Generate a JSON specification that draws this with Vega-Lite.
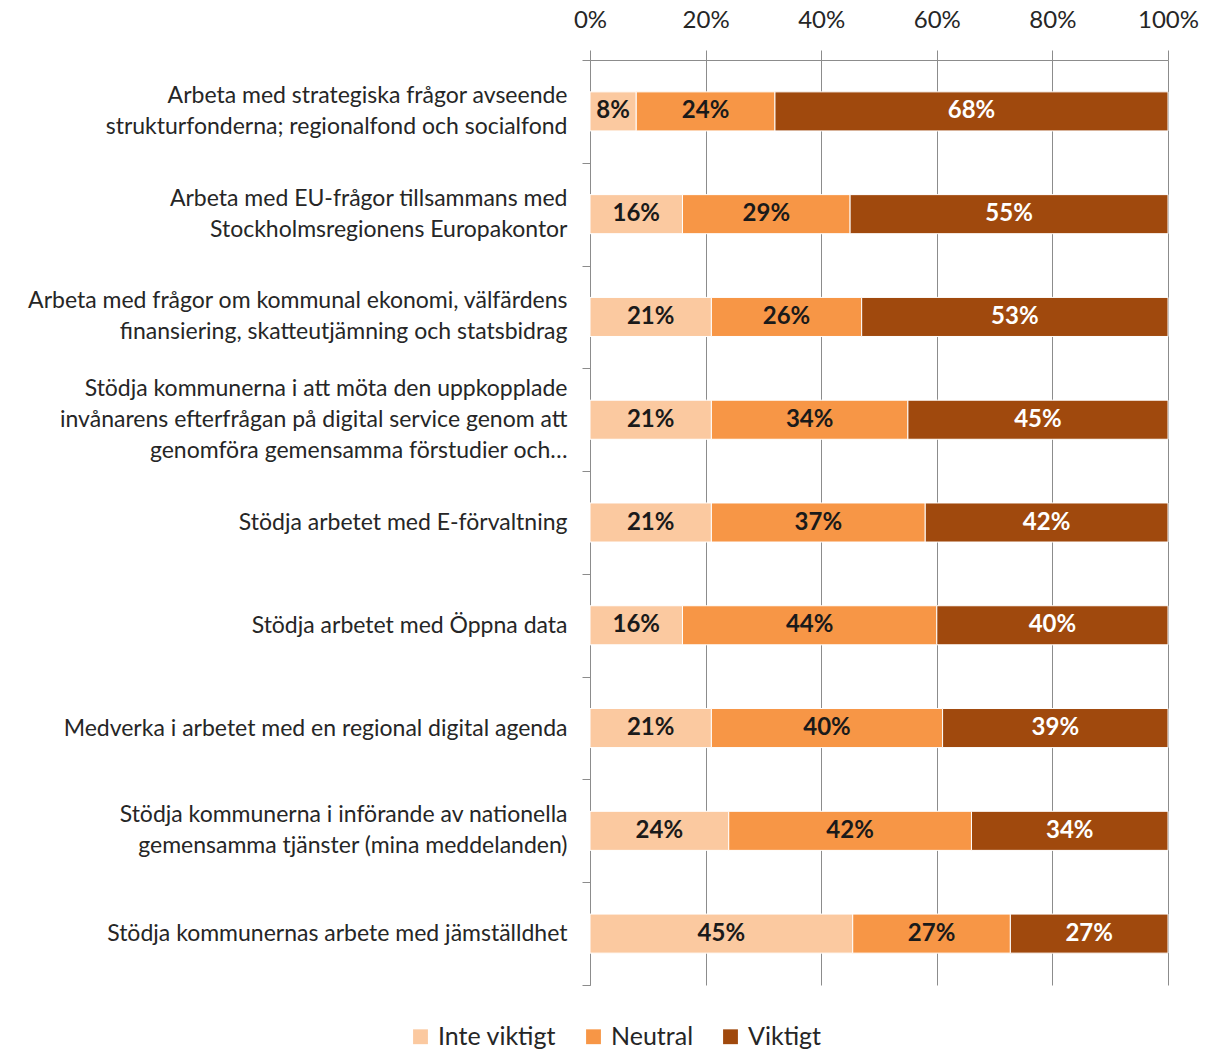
{
  "$schema": "https://vega.github.io/schema/vega-lite/v6.json",
  "autosize": "none",
  "width": 578,
  "height": 925,
  "padding": {"left": 590, "top": 60, "right": 49, "bottom": 67},
  "background": "white",
  "config": {"view": {"stroke": null}, "font": "Lato"},
  "data": {
    "values": [
      {"q": "Arbeta med strategiska frågor avseende|strukturfonderna; regionalfond och socialfond", "resp": "Inte viktigt", "v": 0.08},
      {"q": "Arbeta med strategiska frågor avseende|strukturfonderna; regionalfond och socialfond", "resp": "Neutral", "v": 0.24},
      {"q": "Arbeta med strategiska frågor avseende|strukturfonderna; regionalfond och socialfond", "resp": "Viktigt", "v": 0.68},
      {"q": "Arbeta med EU-frågor tillsammans med|Stockholmsregionens Europakontor", "resp": "Inte viktigt", "v": 0.16},
      {"q": "Arbeta med EU-frågor tillsammans med|Stockholmsregionens Europakontor", "resp": "Neutral", "v": 0.29},
      {"q": "Arbeta med EU-frågor tillsammans med|Stockholmsregionens Europakontor", "resp": "Viktigt", "v": 0.55},
      {"q": "Arbeta med frågor om kommunal ekonomi, välfärdens|finansiering, skatteutjämning och statsbidrag", "resp": "Inte viktigt", "v": 0.21},
      {"q": "Arbeta med frågor om kommunal ekonomi, välfärdens|finansiering, skatteutjämning och statsbidrag", "resp": "Neutral", "v": 0.26},
      {"q": "Arbeta med frågor om kommunal ekonomi, välfärdens|finansiering, skatteutjämning och statsbidrag", "resp": "Viktigt", "v": 0.53},
      {"q": "Stödja kommunerna i att möta den uppkopplade|invånarens efterfrågan på digital service genom att|genomföra gemensamma förstudier och…", "resp": "Inte viktigt", "v": 0.21},
      {"q": "Stödja kommunerna i att möta den uppkopplade|invånarens efterfrågan på digital service genom att|genomföra gemensamma förstudier och…", "resp": "Neutral", "v": 0.34},
      {"q": "Stödja kommunerna i att möta den uppkopplade|invånarens efterfrågan på digital service genom att|genomföra gemensamma förstudier och…", "resp": "Viktigt", "v": 0.45},
      {"q": "Stödja arbetet med E-förvaltning", "resp": "Inte viktigt", "v": 0.21},
      {"q": "Stödja arbetet med E-förvaltning", "resp": "Neutral", "v": 0.37},
      {"q": "Stödja arbetet med E-förvaltning", "resp": "Viktigt", "v": 0.42},
      {"q": "Stödja arbetet med Öppna data", "resp": "Inte viktigt", "v": 0.16},
      {"q": "Stödja arbetet med Öppna data", "resp": "Neutral", "v": 0.44},
      {"q": "Stödja arbetet med Öppna data", "resp": "Viktigt", "v": 0.40},
      {"q": "Medverka i arbetet med en regional digital agenda", "resp": "Inte viktigt", "v": 0.21},
      {"q": "Medverka i arbetet med en regional digital agenda", "resp": "Neutral", "v": 0.40},
      {"q": "Medverka i arbetet med en regional digital agenda", "resp": "Viktigt", "v": 0.39},
      {"q": "Stödja kommunerna i införande av nationella|gemensamma tjänster (mina meddelanden)", "resp": "Inte viktigt", "v": 0.24},
      {"q": "Stödja kommunerna i införande av nationella|gemensamma tjänster (mina meddelanden)", "resp": "Neutral", "v": 0.42},
      {"q": "Stödja kommunerna i införande av nationella|gemensamma tjänster (mina meddelanden)", "resp": "Viktigt", "v": 0.34},
      {"q": "Stödja kommunernas arbete med jämställdhet", "resp": "Inte viktigt", "v": 0.45},
      {"q": "Stödja kommunernas arbete med jämställdhet", "resp": "Neutral", "v": 0.27},
      {"q": "Stödja kommunernas arbete med jämställdhet", "resp": "Viktigt", "v": 0.27}
    ]
  },
  "encoding": {
    "y": {
      "field": "q",
      "type": "nominal",
      "sort": null,
      "title": null,
      "scale": {"paddingInner": 0, "paddingOuter": 0},
      "axis": {
        "labelExpr": "split(datum.label, '|')",
        "labelFont": "Lato",
        "labelFontSize": 23,
        "labelLineHeight": 31,
        "labelColor": "#262626",
        "labelLimit": 600,
        "labelPadding": 15,
        "labelOffset": {
          "condition": [
            {"test": "length(split(datum.value, '|')) == 3", "value": -31},
            {"test": "length(split(datum.value, '|')) == 2", "value": -16}
          ],
          "value": 0
        },
        "tickBand": "extent",
        "tickSize": 8,
        "tickColor": "#8c8c8c",
        "domainColor": "#8c8c8c",
        "grid": false
      }
    }
  },
  "layer": [
    {
      "mark": {"type": "bar", "height": {"band": 0.38}, "stroke": "white", "strokeWidth": 1},
      "encoding": {
        "x": {
          "field": "v",
          "type": "quantitative",
          "stack": "normalize",
          "title": null,
          "scale": {"domain": [0, 1]},
          "axis": {
            "orient": "top",
            "values": [0, 0.2, 0.4, 0.6, 0.8, 1],
            "format": ".0%",
            "labelFont": "Lato",
            "labelFontSize": 24,
            "labelFlush": false,
            "labelColor": "#262626",
            "labelPadding": 18,
            "tickSize": 10,
            "tickColor": "#8c8c8c",
            "domainColor": "#8c8c8c",
            "grid": true,
            "gridColor": "#8c8c8c",
            "gridWidth": 1
          }
        },
        "order": {"field": "resp", "type": "nominal", "sort": "ascending"},
        "color": {
          "field": "resp",
          "type": "nominal",
          "scale": {"domain": ["Inte viktigt", "Neutral", "Viktigt"], "range": ["#fbc9a0", "#f79646", "#a0490d"]},
          "legend": {
            "orient": "none",
            "direction": "horizontal",
            "legendX": -182,
            "legendY": 964,
            "title": null,
            "symbolType": "square",
            "symbolSize": 220,
            "symbolStrokeWidth": 0,
            "labelFont": "Lato",
            "labelFontSize": 25,
            "labelColor": "#262626",
            "columnPadding": 24,
            "labelOffset": 5
          }
        }
      }
    },
    {
      "mark": {"type": "text", "font": "Lato", "fontSize": 24, "fontWeight": "bold", "baseline": "middle"},
      "encoding": {
        "x": {"field": "v", "type": "quantitative", "stack": "normalize", "bandPosition": 0.5},
        "order": {"field": "resp", "type": "nominal", "sort": "ascending"},
        "detail": {"field": "resp"},
        "text": {"field": "v", "type": "quantitative", "format": ".0%"},
        "color": {"condition": {"test": "datum.resp === 'Viktigt'", "value": "white"}, "value": "#1a1a1a"}
      }
    }
  ]
}
